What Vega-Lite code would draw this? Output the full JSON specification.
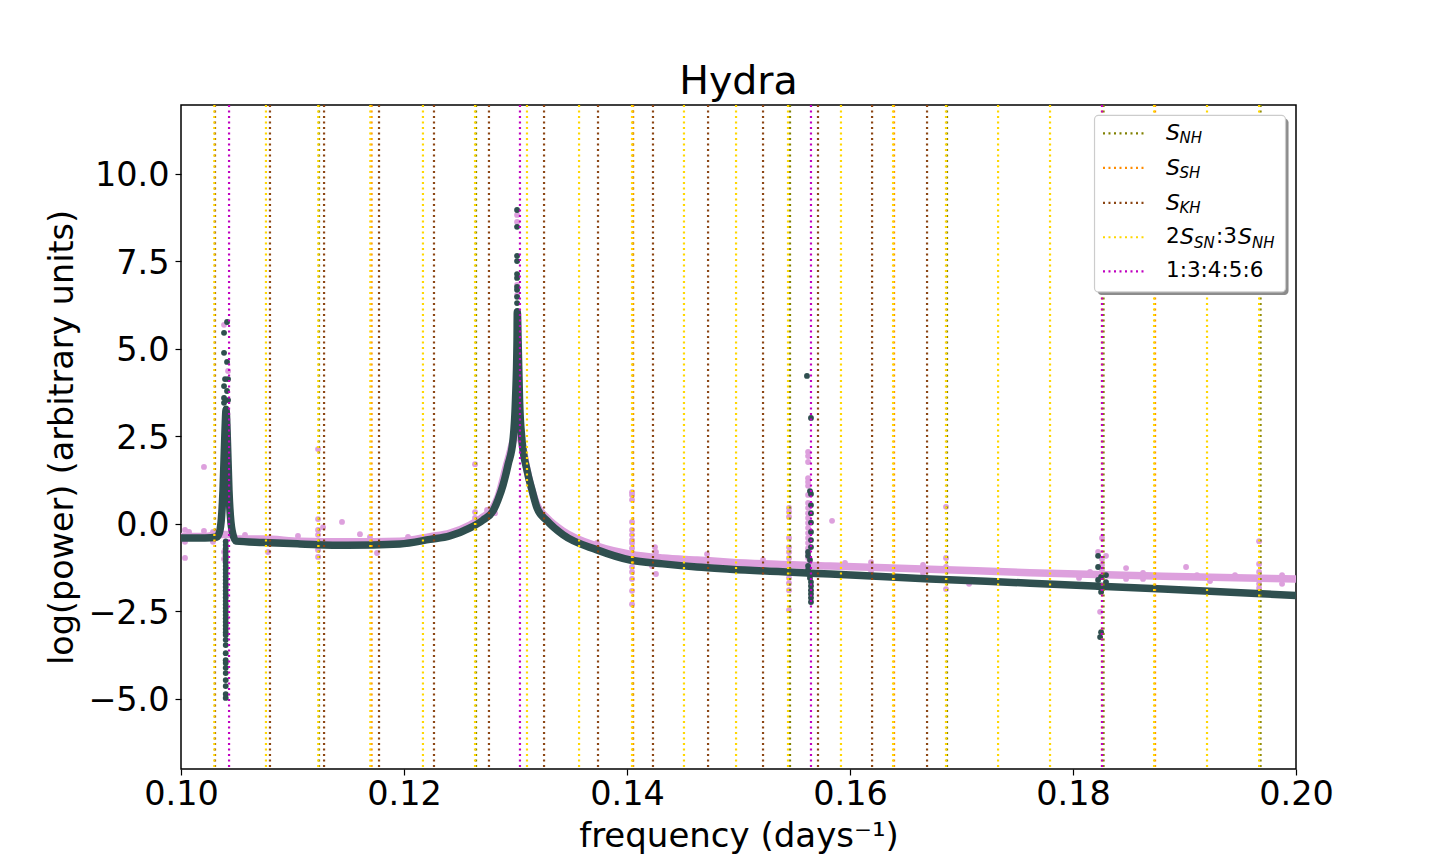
{
  "$schema": "https://vega.github.io/schema/vega-lite/v6.json",
  "autosize": "none",
  "width": 1115,
  "height": 664,
  "padding": {"left": 181, "top": 105, "right": 144, "bottom": 95},
  "background": "#ffffff",
  "config": {"font": "DejaVu Sans", "view": {"stroke": "#000000", "strokeWidth": 1.5}},
  "title": {"text": "Hydra", "fontSize": 39.5, "fontWeight": "normal", "color": "#000000", "offset": 1, "anchor": "middle"},
  "data": {"values": [{}]},
  "datasets": {
    "resonances": [
      {"f": 0.11238, "family": "SNH"}, {"f": 0.12646, "family": "SNH"}, {"f": 0.14054, "family": "SNH"}, {"f": 0.15462, "family": "SNH"}, {"f": 0.1687, "family": "SNH"}, {"f": 0.18274, "family": "SNH"}, {"f": 0.19682, "family": "SNH"},
      {"f": 0.11709, "family": "SSH"}, {"f": 0.14054, "family": "SSH"}, {"f": 0.16395, "family": "SSH"}, {"f": 0.18736, "family": "SSH"},
      {"f": 0.10305, "family": "SKH"}, {"f": 0.10798, "family": "SKH"}, {"f": 0.11283, "family": "SKH"}, {"f": 0.11776, "family": "SKH"}, {"f": 0.12269, "family": "SKH"}, {"f": 0.12762, "family": "SKH"}, {"f": 0.13256, "family": "SKH"}, {"f": 0.1374, "family": "SKH"}, {"f": 0.14233, "family": "SKH"}, {"f": 0.14727, "family": "SKH"}, {"f": 0.1522, "family": "SKH"}, {"f": 0.15713, "family": "SKH"}, {"f": 0.16198, "family": "SKH"}, {"f": 0.16691, "family": "SKH"},
      {"f": 0.10299, "family": "SSN"}, {"f": 0.10762, "family": "SSN"}, {"f": 0.11231, "family": "SSN"}, {"f": 0.11698, "family": "SSN"}, {"f": 0.1217, "family": "SSN"}, {"f": 0.12637, "family": "SSN"}, {"f": 0.13103, "family": "SSN"}, {"f": 0.1357, "family": "SSN"}, {"f": 0.14045, "family": "SSN"}, {"f": 0.14511, "family": "SSN"}, {"f": 0.14978, "family": "SSN"}, {"f": 0.15444, "family": "SSN"}, {"f": 0.15919, "family": "SSN"}, {"f": 0.16386, "family": "SSN"}, {"f": 0.16861, "family": "SSN"}, {"f": 0.17328, "family": "SSN"}, {"f": 0.17794, "family": "SSN"}, {"f": 0.1826, "family": "SSN"}, {"f": 0.18727, "family": "SSN"}, {"f": 0.19202, "family": "SSN"}, {"f": 0.19669, "family": "SSN"},
      {"f": 0.10431, "family": "moons"}, {"f": 0.1304, "family": "moons"}, {"f": 0.1565, "family": "moons"}, {"f": 0.1826, "family": "moons"}
    ],
    "pinkBand": [
      {"f": 0.1, "p": -0.36}, {"f": 0.10215, "p": -0.36}, {"f": 0.1035, "p": -0.3}, {"f": 0.10404, "p": -0.3}, {"f": 0.10457, "p": -0.3}, {"f": 0.10493, "p": -0.43}, {"f": 0.10735, "p": -0.43}, {"f": 0.11067, "p": -0.49}, {"f": 0.11488, "p": -0.51}, {"f": 0.11963, "p": -0.49}, {"f": 0.12233, "p": -0.36}, {"f": 0.12412, "p": -0.26}, {"f": 0.12592, "p": -0.03}, {"f": 0.12708, "p": 0.2}, {"f": 0.12798, "p": 0.46}, {"f": 0.12843, "p": 0.77}, {"f": 0.12933, "p": 1.83}, {"f": 0.13014, "p": 2.6}, {"f": 0.13058, "p": 2.3}, {"f": 0.13103, "p": 1.54}, {"f": 0.13193, "p": 0.54}, {"f": 0.13283, "p": 0.17}, {"f": 0.13426, "p": -0.2}, {"f": 0.13731, "p": -0.63}, {"f": 0.14027, "p": -0.86}, {"f": 0.14323, "p": -0.97}, {"f": 0.14628, "p": -1.03}, {"f": 0.14924, "p": -1.09}, {"f": 0.15821, "p": -1.2}, {"f": 0.16718, "p": -1.29}, {"f": 0.17615, "p": -1.39}, {"f": 0.18808, "p": -1.49}, {"f": 0.2, "p": -1.57}
    ],
    "darkBand": [
      {"f": 0.1, "p": -0.4}, {"f": 0.10215, "p": -0.4}, {"f": 0.10323, "p": -0.37}, {"f": 0.1035, "p": -0.17}, {"f": 0.10377, "p": 0.97}, {"f": 0.10395, "p": 2.69}, {"f": 0.10404, "p": 3.26}, {"f": 0.10413, "p": 2.69}, {"f": 0.1043, "p": 0.97}, {"f": 0.10457, "p": -0.17}, {"f": 0.10493, "p": -0.49}, {"f": 0.10735, "p": -0.53}, {"f": 0.11067, "p": -0.57}, {"f": 0.11488, "p": -0.61}, {"f": 0.11963, "p": -0.57}, {"f": 0.12233, "p": -0.44}, {"f": 0.12412, "p": -0.34}, {"f": 0.12592, "p": -0.11}, {"f": 0.12708, "p": 0.11}, {"f": 0.12798, "p": 0.37}, {"f": 0.12843, "p": 0.69}, {"f": 0.12888, "p": 1.11}, {"f": 0.12933, "p": 1.69}, {"f": 0.12978, "p": 2.4}, {"f": 0.13, "p": 3.54}, {"f": 0.13014, "p": 5.26}, {"f": 0.13016, "p": 6.06}, {"f": 0.13023, "p": 5.26}, {"f": 0.13036, "p": 3.54}, {"f": 0.13058, "p": 2.4}, {"f": 0.13103, "p": 1.54}, {"f": 0.13148, "p": 0.97}, {"f": 0.13193, "p": 0.46}, {"f": 0.13283, "p": 0.09}, {"f": 0.13426, "p": -0.31}, {"f": 0.13731, "p": -0.74}, {"f": 0.14027, "p": -1.03}, {"f": 0.14323, "p": -1.14}, {"f": 0.14628, "p": -1.23}, {"f": 0.14924, "p": -1.29}, {"f": 0.15821, "p": -1.43}, {"f": 0.16718, "p": -1.57}, {"f": 0.17615, "p": -1.69}, {"f": 0.18808, "p": -1.86}, {"f": 0.2, "p": -2.04}
    ],
    "pinkPoints": [
      {"f": 0.10036, "p": -0.17}, {"f": 0.10072, "p": -0.23}, {"f": 0.10206, "p": -0.2}, {"f": 0.10287, "p": -0.23}, {"f": 0.10036, "p": -0.51}, {"f": 0.10287, "p": -0.51}, {"f": 0.10036, "p": -0.97}, {"f": 0.10206, "p": 1.63},
      {"f": 0.10386, "p": 5.69}, {"f": 0.10422, "p": 4.37}, {"f": 0.10386, "p": -0.8}, {"f": 0.10386, "p": -1.0},
      {"f": 0.10574, "p": -0.31}, {"f": 0.1078, "p": -0.8}, {"f": 0.11049, "p": -0.34},
      {"f": 0.11229, "p": 2.14}, {"f": 0.11229, "p": 0.14}, {"f": 0.11274, "p": -0.09}, {"f": 0.11229, "p": -0.17}, {"f": 0.11229, "p": -0.31}, {"f": 0.11229, "p": -0.49}, {"f": 0.11229, "p": -0.6}, {"f": 0.11229, "p": -0.74}, {"f": 0.11229, "p": -0.94},
      {"f": 0.11444, "p": 0.06}, {"f": 0.11605, "p": -0.29}, {"f": 0.11695, "p": -0.37}, {"f": 0.11758, "p": -0.83}, {"f": 0.12036, "p": -0.37},
      {"f": 0.12637, "p": 1.71}, {"f": 0.12637, "p": 0.34}, {"f": 0.12637, "p": 0.17}, {"f": 0.12745, "p": 0.4}, {"f": 0.12816, "p": 0.31},
      {"f": 0.13014, "p": 8.83}, {"f": 0.13014, "p": 8.63}, {"f": 0.13014, "p": 6.83}, {"f": 0.13014, "p": 6.54},
      {"f": 0.13731, "p": -0.54},
      {"f": 0.14045, "p": 0.91}, {"f": 0.14045, "p": 0.83}, {"f": 0.14045, "p": 0.69}, {"f": 0.14045, "p": 0.06}, {"f": 0.14045, "p": -0.17}, {"f": 0.14045, "p": -0.31}, {"f": 0.14045, "p": -0.46}, {"f": 0.14045, "p": -0.54}, {"f": 0.14045, "p": -0.69}, {"f": 0.14045, "p": -0.83}, {"f": 0.14045, "p": -0.97}, {"f": 0.14045, "p": -1.23}, {"f": 0.14045, "p": -1.37}, {"f": 0.14045, "p": -1.57}, {"f": 0.14045, "p": -1.91}, {"f": 0.14045, "p": -2.29},
      {"f": 0.14251, "p": -0.66}, {"f": 0.1426, "p": -0.8}, {"f": 0.1426, "p": -1.43}, {"f": 0.14224, "p": -1.2}, {"f": 0.14718, "p": -0.86}, {"f": 0.1522, "p": -1.03},
      {"f": 0.15453, "p": 0.46}, {"f": 0.15453, "p": 0.34}, {"f": 0.15453, "p": 0.2}, {"f": 0.15453, "p": -0.4}, {"f": 0.15453, "p": -0.66}, {"f": 0.15453, "p": -0.8}, {"f": 0.15453, "p": -0.97}, {"f": 0.15453, "p": -1.11}, {"f": 0.15453, "p": -1.26}, {"f": 0.15453, "p": -1.4}, {"f": 0.15453, "p": -1.54}, {"f": 0.15453, "p": -1.69}, {"f": 0.15453, "p": -1.89}, {"f": 0.15453, "p": -2.46},
      {"f": 0.15624, "p": 2.06}, {"f": 0.15624, "p": 1.94}, {"f": 0.15624, "p": 1.77}, {"f": 0.15624, "p": 1.31}, {"f": 0.15624, "p": 1.2}, {"f": 0.15624, "p": 1.09}, {"f": 0.15624, "p": 0.83}, {"f": 0.15624, "p": 0.6}, {"f": 0.15624, "p": 0.46}, {"f": 0.15624, "p": 0.31}, {"f": 0.15624, "p": 0.17}, {"f": 0.15624, "p": 0.03}, {"f": 0.15624, "p": -0.11}, {"f": 0.15624, "p": -0.26}, {"f": 0.15624, "p": -0.4}, {"f": 0.15624, "p": -0.54}, {"f": 0.15624, "p": -0.69}, {"f": 0.15624, "p": -0.83}, {"f": 0.15624, "p": -0.97},
      {"f": 0.15839, "p": 0.09}, {"f": 0.15955, "p": -1.11}, {"f": 0.16189, "p": -1.09}, {"f": 0.16189, "p": -1.34}, {"f": 0.16655, "p": -1.17}, {"f": 0.16655, "p": -1.4},
      {"f": 0.16861, "p": 0.49}, {"f": 0.16861, "p": -0.97}, {"f": 0.16861, "p": -1.23}, {"f": 0.16861, "p": -1.86}, {"f": 0.17068, "p": -1.71},
      {"f": 0.18054, "p": -1.54}, {"f": 0.18153, "p": -1.37}, {"f": 0.1826, "p": -0.4}, {"f": 0.18225, "p": -0.8}, {"f": 0.18296, "p": -0.91}, {"f": 0.1826, "p": -1.0}, {"f": 0.1826, "p": -1.17}, {"f": 0.1826, "p": -1.31}, {"f": 0.18243, "p": -2.51},
      {"f": 0.18476, "p": -1.26}, {"f": 0.18476, "p": -1.57}, {"f": 0.18628, "p": -1.4}, {"f": 0.18628, "p": -1.57}, {"f": 0.19014, "p": -1.23}, {"f": 0.19112, "p": -1.46}, {"f": 0.19229, "p": -1.63}, {"f": 0.19453, "p": -1.46},
      {"f": 0.19669, "p": -0.49}, {"f": 0.19669, "p": -1.14}, {"f": 0.19669, "p": -1.37}, {"f": 0.19669, "p": -1.54}, {"f": 0.19669, "p": -1.71}, {"f": 0.19669, "p": -1.83}, {"f": 0.19875, "p": -1.46}, {"f": 0.19875, "p": -1.71}
    ],
    "darkPoints": [
      {"f": 0.10413, "p": 5.77}, {"f": 0.10386, "p": 5.46}, {"f": 0.10386, "p": 4.89}, {"f": 0.10413, "p": 4.63}, {"f": 0.10395, "p": 4.14}, {"f": 0.10422, "p": 4.14}, {"f": 0.10386, "p": 3.94}, {"f": 0.10413, "p": 3.8}, {"f": 0.10386, "p": 3.6}, {"f": 0.10422, "p": 3.54}, {"f": 0.10386, "p": 3.46}, {"f": 0.10404, "p": 3.3},
      {"f": 0.10401, "p": -0.5}, {"f": 0.10401, "p": -0.6}, {"f": 0.10401, "p": -0.7}, {"f": 0.10401, "p": -0.8}, {"f": 0.10401, "p": -0.9}, {"f": 0.10401, "p": -1.0}, {"f": 0.10401, "p": -1.1}, {"f": 0.10401, "p": -1.2}, {"f": 0.10401, "p": -1.3}, {"f": 0.10401, "p": -1.4}, {"f": 0.10401, "p": -1.5}, {"f": 0.10401, "p": -1.6}, {"f": 0.10401, "p": -1.7}, {"f": 0.10401, "p": -1.8}, {"f": 0.10401, "p": -1.9}, {"f": 0.10401, "p": -2.0}, {"f": 0.10401, "p": -2.1}, {"f": 0.10401, "p": -2.2}, {"f": 0.10401, "p": -2.3}, {"f": 0.10401, "p": -2.4}, {"f": 0.10401, "p": -2.5}, {"f": 0.10401, "p": -2.6}, {"f": 0.10401, "p": -2.7}, {"f": 0.10401, "p": -2.8}, {"f": 0.10401, "p": -2.9}, {"f": 0.10401, "p": -3.0}, {"f": 0.10401, "p": -3.1}, {"f": 0.10401, "p": -3.17}, {"f": 0.10401, "p": -3.31}, {"f": 0.10401, "p": -3.46}, {"f": 0.10401, "p": -3.69}, {"f": 0.10401, "p": -3.89}, {"f": 0.10401, "p": -3.97}, {"f": 0.10401, "p": -4.11}, {"f": 0.10401, "p": -4.26}, {"f": 0.10401, "p": -4.46}, {"f": 0.10401, "p": -4.63}, {"f": 0.10401, "p": -4.86}, {"f": 0.10401, "p": -4.97},
      {"f": 0.13014, "p": 8.97}, {"f": 0.13014, "p": 8.49}, {"f": 0.13014, "p": 7.66}, {"f": 0.13014, "p": 7.51}, {"f": 0.13014, "p": 7.14}, {"f": 0.13014, "p": 7.03}, {"f": 0.13014, "p": 6.77}, {"f": 0.13014, "p": 6.69}, {"f": 0.13014, "p": 6.49}, {"f": 0.13014, "p": 6.31}, {"f": 0.13014, "p": 6.06},
      {"f": 0.15614, "p": 4.23}, {"f": 0.1565, "p": 3.03}, {"f": 0.15641, "p": 0.94}, {"f": 0.1565, "p": 0.86}, {"f": 0.1565, "p": 0.54}, {"f": 0.1565, "p": 0.31}, {"f": 0.1565, "p": 0.04}, {"f": 0.1565, "p": -0.23}, {"f": 0.1565, "p": -0.46}, {"f": 0.1565, "p": -0.66}, {"f": 0.15624, "p": -0.8}, {"f": 0.15624, "p": -0.91}, {"f": 0.15641, "p": -1.03}, {"f": 0.15624, "p": -1.2}, {"f": 0.15624, "p": -1.31}, {"f": 0.15632, "p": -1.43}, {"f": 0.15641, "p": -1.54}, {"f": 0.1565, "p": -1.66}, {"f": 0.1565, "p": -1.77}, {"f": 0.1565, "p": -1.89}, {"f": 0.1565, "p": -2.0}, {"f": 0.1565, "p": -2.11}, {"f": 0.1565, "p": -2.23},
      {"f": 0.18225, "p": -0.91}, {"f": 0.18225, "p": -1.23}, {"f": 0.18296, "p": -1.46}, {"f": 0.18252, "p": -1.51}, {"f": 0.18225, "p": -1.6}, {"f": 0.18296, "p": -1.66}, {"f": 0.18225, "p": -1.8}, {"f": 0.18252, "p": -1.94}, {"f": 0.18252, "p": -3.09}, {"f": 0.18243, "p": -3.23}
    ]
  },
  "layer": [
    {
      "data": {"name": "pinkBand"},
      "mark": {"type": "line", "color": "#dda0dd", "strokeWidth": 7.5, "clip": true, "strokeCap": "butt", "interpolate": "monotone"},
      "encoding": {
        "x": {
          "field": "f", "type": "quantitative", "title": "frequency (days⁻¹)",
          "scale": {"domain": [0.1, 0.2], "nice": false, "zero": false},
          "axis": {"values": [0.1, 0.12, 0.14, 0.16, 0.18, 0.2], "format": ".2f", "grid": false, "domain": false, "tickColor": "#000000", "tickSize": 6, "tickWidth": 1.2, "labelColor": "#000000", "labelFontSize": 33.5, "labelPadding": 3, "labelFlush": false, "titleColor": "#000000", "titleFontSize": 34, "titleFontWeight": "normal", "titlePadding": 9}
        },
        "y": {
          "field": "p", "type": "quantitative", "title": "log(power) (arbitrary units)",
          "scale": {"domain": [-7, 11.97], "nice": false, "zero": false},
          "axis": {"values": [-5, -2.5, 0, 2.5, 5, 7.5, 10], "labelExpr": "replace(format(datum.value, '.1f'), '-', '−')", "grid": false, "domain": false, "tickColor": "#000000", "tickSize": 6, "tickWidth": 1.2, "labelColor": "#000000", "labelFontSize": 33.5, "labelPadding": 6, "labelOffset": 2, "titleColor": "#000000", "titleFontSize": 33.4, "titleFontWeight": "normal", "titlePadding": 8}
        }
      }
    },
    {
      "data": {"name": "pinkPoints"},
      "mark": {"type": "point", "filled": true, "shape": "circle", "color": "#dda0dd", "opacity": 1, "size": 34, "clip": true},
      "encoding": {
        "x": {"field": "f", "type": "quantitative"},
        "y": {"field": "p", "type": "quantitative"}
      }
    },
    {
      "data": {"name": "darkBand"},
      "mark": {"type": "line", "color": "#2f4f4f", "strokeWidth": 7.5, "clip": true, "strokeCap": "butt", "interpolate": "monotone"},
      "encoding": {
        "x": {"field": "f", "type": "quantitative"},
        "y": {"field": "p", "type": "quantitative"}
      }
    },
    {
      "data": {"name": "darkPoints"},
      "mark": {"type": "point", "filled": true, "shape": "circle", "color": "#2f4f4f", "opacity": 1, "size": 34, "clip": true},
      "encoding": {
        "x": {"field": "f", "type": "quantitative"},
        "y": {"field": "p", "type": "quantitative"}
      }
    },
    {
      "data": {"name": "resonances"},
      "mark": {"type": "rule", "strokeWidth": 2.2, "strokeDash": [2, 3.5]},
      "encoding": {
        "x": {"field": "f", "type": "quantitative"},
        "color": {
          "field": "family", "type": "nominal", "legend": null,
          "scale": {"domain": ["SNH", "SSH", "SKH", "SSN", "moons"], "range": ["#808000", "#ff8c00", "#8b4513", "#ffd700", "#c000c0"]}
        }
      }
    },
    {
      "mark": {"type": "rect", "color": "#8c8c8c", "cornerRadius": 4},
      "encoding": {
        "x": {"datum": 0.1822, "type": "quantitative"}, "x2": {"datum": 0.19933},
        "y": {"datum": 11.586, "type": "quantitative"}, "y2": {"datum": 6.543}
      }
    },
    {
      "mark": {"type": "rect", "color": "#ffffff", "stroke": "#cccccc", "strokeWidth": 1.2, "cornerRadius": 4},
      "encoding": {
        "x": {"datum": 0.18193, "type": "quantitative"}, "x2": {"datum": 0.19906},
        "y": {"datum": 11.671, "type": "quantitative"}, "y2": {"datum": 6.629}
      }
    },
    {
      "mark": {"type": "rule", "color": "#808000", "strokeWidth": 2.2, "strokeDash": [2, 3.5]},
      "encoding": {"x": {"datum": 0.18269, "type": "quantitative"}, "x2": {"datum": 0.18637}, "y": {"datum": 11.157, "type": "quantitative"}}
    },
    {
      "mark": {"type": "rule", "color": "#ff8c00", "strokeWidth": 2.2, "strokeDash": [2, 3.5]},
      "encoding": {"x": {"datum": 0.18269, "type": "quantitative"}, "x2": {"datum": 0.18637}, "y": {"datum": 10.171, "type": "quantitative"}}
    },
    {
      "mark": {"type": "rule", "color": "#8b4513", "strokeWidth": 2.2, "strokeDash": [2, 3.5]},
      "encoding": {"x": {"datum": 0.18269, "type": "quantitative"}, "x2": {"datum": 0.18637}, "y": {"datum": 9.171, "type": "quantitative"}}
    },
    {
      "mark": {"type": "rule", "color": "#ffd700", "strokeWidth": 2.2, "strokeDash": [2, 3.5]},
      "encoding": {"x": {"datum": 0.18269, "type": "quantitative"}, "x2": {"datum": 0.18637}, "y": {"datum": 8.191, "type": "quantitative"}}
    },
    {
      "mark": {"type": "rule", "color": "#c000c0", "strokeWidth": 2.2, "strokeDash": [2, 3.5]},
      "encoding": {"x": {"datum": 0.18269, "type": "quantitative"}, "x2": {"datum": 0.18637}, "y": {"datum": 7.214, "type": "quantitative"}}
    },
    {
      "mark": {"type": "text", "align": "left", "baseline": "middle", "fontSize": 22, "fontStyle": "italic", "color": "#000000"},
      "encoding": {"x": {"datum": 0.18834, "type": "quantitative"}, "y": {"datum": 11.157, "type": "quantitative"}, "text": {"value": "S"}}
    },
    {
      "mark": {"type": "text", "align": "left", "baseline": "middle", "fontSize": 15, "fontStyle": "italic", "color": "#000000"},
      "encoding": {"x": {"datum": 0.18955, "type": "quantitative"}, "y": {"datum": 11.014, "type": "quantitative"}, "text": {"value": "NH"}}
    },
    {
      "mark": {"type": "text", "align": "left", "baseline": "middle", "fontSize": 22, "fontStyle": "italic", "color": "#000000"},
      "encoding": {"x": {"datum": 0.18834, "type": "quantitative"}, "y": {"datum": 10.171, "type": "quantitative"}, "text": {"value": "S"}}
    },
    {
      "mark": {"type": "text", "align": "left", "baseline": "middle", "fontSize": 15, "fontStyle": "italic", "color": "#000000"},
      "encoding": {"x": {"datum": 0.18955, "type": "quantitative"}, "y": {"datum": 10.02, "type": "quantitative"}, "text": {"value": "SH"}}
    },
    {
      "mark": {"type": "text", "align": "left", "baseline": "middle", "fontSize": 22, "fontStyle": "italic", "color": "#000000"},
      "encoding": {"x": {"datum": 0.18834, "type": "quantitative"}, "y": {"datum": 9.171, "type": "quantitative"}, "text": {"value": "S"}}
    },
    {
      "mark": {"type": "text", "align": "left", "baseline": "middle", "fontSize": 15, "fontStyle": "italic", "color": "#000000"},
      "encoding": {"x": {"datum": 0.18955, "type": "quantitative"}, "y": {"datum": 9.029, "type": "quantitative"}, "text": {"value": "KH"}}
    },
    {
      "mark": {"type": "text", "align": "left", "baseline": "middle", "fontSize": 21.5, "color": "#000000"},
      "encoding": {"x": {"datum": 0.18834, "type": "quantitative"}, "y": {"datum": 8.191, "type": "quantitative"}, "text": {"value": "2"}}
    },
    {
      "mark": {"type": "text", "align": "left", "baseline": "middle", "fontSize": 22, "fontStyle": "italic", "color": "#000000"},
      "encoding": {"x": {"datum": 0.1896, "type": "quantitative"}, "y": {"datum": 8.191, "type": "quantitative"}, "text": {"value": "S"}}
    },
    {
      "mark": {"type": "text", "align": "left", "baseline": "middle", "fontSize": 15, "fontStyle": "italic", "color": "#000000"},
      "encoding": {"x": {"datum": 0.19086, "type": "quantitative"}, "y": {"datum": 8.037, "type": "quantitative"}, "text": {"value": "SN"}}
    },
    {
      "mark": {"type": "text", "align": "left", "baseline": "middle", "fontSize": 21.5, "color": "#000000"},
      "encoding": {"x": {"datum": 0.19282, "type": "quantitative"}, "y": {"datum": 8.191, "type": "quantitative"}, "text": {"value": ":3"}}
    },
    {
      "mark": {"type": "text", "align": "left", "baseline": "middle", "fontSize": 22, "fontStyle": "italic", "color": "#000000"},
      "encoding": {"x": {"datum": 0.1948, "type": "quantitative"}, "y": {"datum": 8.191, "type": "quantitative"}, "text": {"value": "S"}}
    },
    {
      "mark": {"type": "text", "align": "left", "baseline": "middle", "fontSize": 15, "fontStyle": "italic", "color": "#000000"},
      "encoding": {"x": {"datum": 0.19606, "type": "quantitative"}, "y": {"datum": 8.037, "type": "quantitative"}, "text": {"value": "NH"}}
    },
    {
      "mark": {"type": "text", "align": "left", "baseline": "middle", "fontSize": 21.5, "color": "#000000"},
      "encoding": {"x": {"datum": 0.18834, "type": "quantitative"}, "y": {"datum": 7.214, "type": "quantitative"}, "text": {"value": "1:3:4:5:6"}}
    }
  ]
}
